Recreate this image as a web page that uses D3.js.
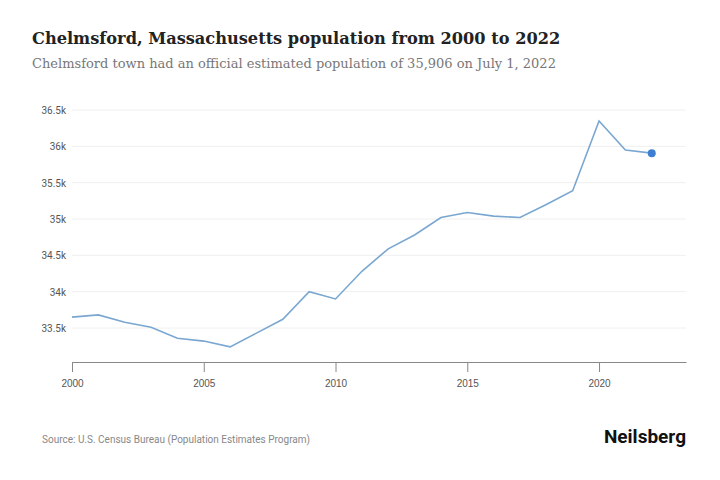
<!DOCTYPE html>
<html><head><meta charset="utf-8">
<script src="https://cdn.jsdelivr.net/npm/d3@7"></script>
<style>body{margin:0;background:#fff}</style>
</head><body>
<script>
const years = d3.range(2000, 2023)
const population = [33650, 33680, 33580, 33510, 33360, 33320, 33240, 33430, 33620, 34000,
  33900, 34280, 34590, 34780, 35020, 35090, 35040, 35020, 35200, 35390, 36350, 35950, 35906]
const yTicks = [33500, 34000, 34500, 35000, 35500, 36000, 36500]
const xTicks = [2000, 2005, 2010, 2015, 2020]

const width = 720, height = 480
const svg = d3.select('body').append('svg').attr('width', width).attr('height', height)
  .style('font-family', 'Roboto, sans-serif')

svg.append('text').attr('x', 32).attr('y', 44).text('Chelmsford, Massachusetts population from 2000 to 2022')
  .attr('font-family', 'DejaVu Serif, serif').attr('font-weight', 'bold').attr('font-size', 16.2).attr('fill', '#222')
svg.append('text').attr('x', 32).attr('y', 68).text('Chelmsford town had an official estimated population of 35,906 on July 1, 2022')
  .attr('font-family', 'DejaVu Serif, serif').attr('font-size', 13).attr('fill', '#777')

const x = d3.scaleLinear().domain([2000, 2023.3]).range([72, 686])
const y = d3.scaleLinear().domain([33500, 36500]).range([328, 110])

svg.append('g').selectAll('line').data(yTicks).join('line')
  .attr('x1', 72).attr('x2', 686).attr('y1', y).attr('y2', y)
  .attr('stroke', '#f0f0f0')
svg.append('g').selectAll('text').data(yTicks).join('text')
  .attr('x', 66).attr('y', d => y(d) + 4).attr('text-anchor', 'end')
  .attr('font-size', 10).attr('fill', '#555')
  .text(d => d3.format('~')(d / 1000) + 'k')

const xAxis = svg.append('g').attr('transform', 'translate(0,362)')
  .call(d3.axisBottom(x).tickValues(xTicks).tickFormat(d3.format('d'))
    .tickSize(10).tickSizeOuter(0).tickPadding(8))
xAxis.select('.domain').attr('stroke', '#888')
xAxis.selectAll('line').attr('stroke', '#888')
xAxis.selectAll('text').attr('font-size', 10).attr('fill', '#555')

const line = d3.line().x((d, i) => x(years[i])).y(d => y(d))
svg.append('path').datum(population).attr('d', line)
  .attr('fill', 'none').attr('stroke', '#7aa7d1').attr('stroke-width', 1.6)
svg.append('circle').attr('cx', x(2022)).attr('cy', y(population[22])).attr('r', 4).attr('fill', '#3d7fd0')

svg.append('text').attr('x', 42).attr('y', 443).text('Source: U.S. Census Bureau (Population Estimates Program)')
  .attr('font-size', 10).attr('fill', '#888')
svg.append('text').attr('x', 686).attr('y', 443).attr('text-anchor', 'end').text('Neilsberg')
  .attr('font-size', 19).attr('font-weight', 'bold').attr('fill', '#111')
</script>
</body></html>
